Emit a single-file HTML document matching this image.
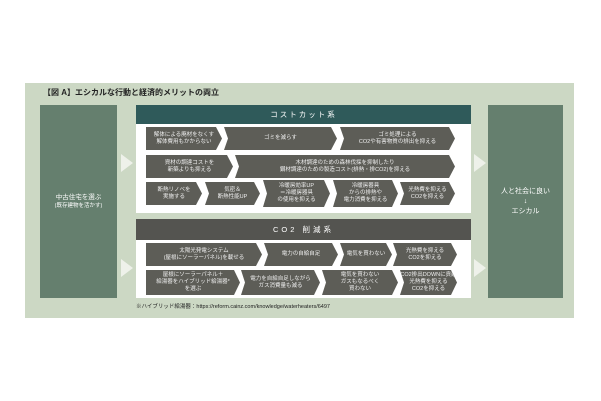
<!DOCTYPE html>
<html><head><meta charset="utf-8"><style>
body{margin:0;width:601px;height:401px;background:#fff;position:relative;overflow:hidden;font-family:"Liberation Sans","Noto Sans CJK JP",sans-serif}
.a{position:absolute}
.c{position:absolute;background:#5d5d57;color:#eee;font-size:5.5px;line-height:7px;display:flex;align-items:center;justify-content:center;text-align:center;clip-path:polygon(0 0,calc(100% - 6px) 0,100% 50%,calc(100% - 6px) 100%,0 100%,4px 50%);padding:0 6px;box-sizing:border-box;white-space:nowrap}
.c.f{clip-path:polygon(0 0,calc(100% - 6px) 0,100% 50%,calc(100% - 6px) 100%,0 100%)}
.t{position:absolute;width:0;height:0;border-top:9px solid transparent;border-bottom:9px solid transparent;border-left:12px solid #eef1ea}
</style></head><body>
<div class="a" style="left:25px;top:83px;width:549px;height:235px;background:#ccd8c4"></div>
<div class="a" style="left:43px;top:87px;font-size:8px;font-weight:bold;color:#222">【図 A】エシカルな行動と経済的メリットの両立</div>
<div class="a" style="left:40px;top:105px;width:77px;height:193px;background:#657f6e;color:#fff;font-size:6.5px;text-align:center;line-height:8px;display:flex;flex-direction:column;justify-content:center">中古住宅を選ぶ<span style="font-size:5.5px">(既存建物を活かす)</span></div>
<div class="a" style="left:488px;top:105px;width:75px;height:193px;background:#657f6e;color:#fff;font-size:7px;text-align:center;line-height:10px;display:flex;flex-direction:column;justify-content:center">人と社会に良い<br>↓<br>エシカル</div>
<div class="t" style="left:121px;top:154px"></div>
<div class="t" style="left:121px;top:259px"></div>
<div class="t" style="left:474px;top:154px"></div>
<div class="t" style="left:474px;top:259px"></div>
<div class="a" style="left:136px;top:105px;width:335px;height:108px;background:#fff"></div>
<div class="a" style="left:136px;top:105px;width:335px;height:19px;background:#2f5a5a;color:#fff;font-size:7.5px;letter-spacing:2px;text-align:center;line-height:19px">コストカット系</div>
<div class="a" style="left:136px;top:219px;width:335px;height:79px;background:#fff"></div>
<div class="a" style="left:136px;top:219px;width:335px;height:21px;background:#545450;color:#fff;font-size:7.5px;letter-spacing:3px;text-align:center;line-height:21px">CO2 削減系</div>

<div class="c f" style="left:146px;top:127px;width:76px;height:23px">解体による廃材をなくす<br>解体費用もかからない</div>
<div class="c" style="left:224px;top:127px;width:113px;height:23px">ゴミを減らす</div>
<div class="c" style="left:340px;top:127px;width:115px;height:23px">ゴミ処理による<br>CO2や有害物質の排出を抑える</div>
<div class="c f" style="left:146px;top:155px;width:87px;height:23px">資材の調達コストを<br>新築よりも抑える</div>
<div class="c" style="left:235px;top:155px;width:220px;height:23px">木材調達のための森林伐採を抑制したり<br>鋼材調達のための製造コスト(排熱・排CO2)を抑える</div>
<div class="c f" style="left:146px;top:182px;width:56px;height:23px">断熱リノベを<br>実施する</div>
<div class="c" style="left:205px;top:182px;width:55px;height:23px">気密＆<br>断熱性能UP</div>
<div class="c" style="left:263px;top:180px;width:67px;height:27px">冷暖房効率UP<br>＝冷暖房器具<br>の使用を抑える</div>
<div class="c" style="left:333px;top:180px;width:65px;height:27px">冷暖房器具<br>からの排熱や<br>電力消費を抑える</div>
<div class="c" style="left:400px;top:182px;width:55px;height:23px">光熱費を抑える<br>CO2を抑える</div>

<div class="c f" style="left:146px;top:243px;width:116px;height:23px">太陽光発電システム<br>(屋根にソーラーパネル)を載せる</div>
<div class="c" style="left:264px;top:243px;width:74px;height:23px">電力の自給自足</div>
<div class="c" style="left:340px;top:243px;width:52px;height:23px">電気を買わない</div>
<div class="c" style="left:393px;top:243px;width:64px;height:23px">光熱費を抑える<br>CO2を抑える</div>
<div class="c f" style="left:146px;top:270px;width:94px;height:25px">屋根にソーラーパネル＋<br>給湯器をハイブリッド給湯器*<br>を選ぶ</div>
<div class="c" style="left:241px;top:270px;width:79px;height:25px">電力を自給自足しながら<br>ガス消費量も減る</div>
<div class="c" style="left:322px;top:270px;width:76px;height:25px">電気を買わない<br>ガスもなるべく<br>買わない</div>
<div class="c" style="left:400px;top:270px;width:57px;height:25px">CO2排出DOWNに貢献<br>光熱費を抑える<br>CO2を抑える</div>

<div class="a" style="left:136px;top:302px;font-size:5.5px;color:#222;white-space:nowrap">※ハイブリッド給湯器：https://reform.cainz.com/knowledge/waterheaters/6497</div>
</body></html>
